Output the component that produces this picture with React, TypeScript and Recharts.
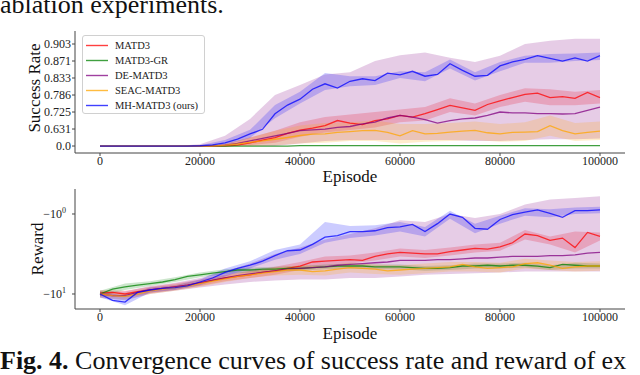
import React from "react";
import { ComposedChart, Line, Area, XAxis, YAxis } from "recharts";

const SERIF = '"Liberation Serif", "Times New Roman", serif';
const AXIS = "#444";

// x grid of the curves (every 2500 episodes) and of the shaded bands (every 5000)
const EPISODES = [
  0, 2500, 5000, 7500, 10000, 12500, 15000, 17500, 20000, 22500, 25000, 27500, 30000, 32500,
  35000, 37500, 40000, 42500, 45000, 47500, 50000, 52500, 55000, 57500, 60000, 62500, 65000,
  67500, 70000, 72500, 75000, 77500, 80000, 82500, 85000, 87500, 90000, 92500, 95000, 97500,
  100000,
];
const BAND_EPISODES = [
  0, 5000, 10000, 15000, 20000, 25000, 30000, 35000, 40000, 45000, 50000, 55000, 60000, 65000,
  70000, 75000, 80000, 85000, 90000, 95000, 100000,
];
const X_TICKS = [0, 20000, 40000, 60000, 80000, 100000];

// success-rate axis uses uneven tick values, equally spaced
const SR_TICKS = [0, 0.631, 0.725, 0.786, 0.833, 0.871, 0.903];
const SR_TICK_LABELS = ["0.0", "0.631", "0.725", "0.786", "0.833", "0.871", "0.903"];

// ---- success rate ----
const SR_MATD3 = [
  0, 0, 0, 0, 0, 0, 0, 0, 0, 0, 0, 0.032, 0.114, 0.221, 0.316, 0.473, 0.593, 0.636, 0.65, 0.678,
  0.664, 0.655, 0.678, 0.687, 0.706, 0.697, 0.716, 0.734, 0.749, 0.74, 0.731, 0.752, 0.765, 0.777,
  0.788, 0.791, 0.777, 0.78, 0.774, 0.793, 0.777,
];
const SR_MATD3_GR = [
  0, 0, 0, 0, 0, 0, 0, 0, 0, 0, 0, 0, 0, 0, 0, 0, 0.015, 0.015, 0.015, 0.015, 0.015, 0.015, 0.015,
  0.015, 0.015, 0.015, 0.015, 0.015, 0.015, 0.015, 0.015, 0.015, 0.015, 0.015, 0.015, 0.015, 0.015,
  0.015, 0.015, 0.015, 0.015,
];
const SR_DE_MATD3 = [
  0, 0, 0, 0, 0, 0, 0, 0, 0, 0, 0.032, 0.095, 0.189, 0.284, 0.379, 0.473, 0.568, 0.599, 0.631,
  0.64, 0.645, 0.659, 0.669, 0.692, 0.706, 0.697, 0.683, 0.664, 0.678, 0.687, 0.692, 0.706, 0.725,
  0.72, 0.72, 0.716, 0.716, 0.714, 0.716, 0.731, 0.743,
];
const SR_SEAC_MATD3 = [
  0, 0, 0, 0, 0, 0, 0, 0, 0, 0, 0.032, 0.076, 0.139, 0.189, 0.252, 0.316, 0.391, 0.442, 0.454,
  0.505, 0.536, 0.568, 0.581, 0.505, 0.379, 0.568, 0.454, 0.473, 0.517, 0.555, 0.581, 0.492, 0.454,
  0.505, 0.517, 0.536, 0.65, 0.568, 0.454, 0.505, 0.555,
];
const SR_MH_MATD3 = [
  0, 0, 0, 0, 0, 0, 0, 0, 0.01, 0.04, 0.12, 0.26, 0.45, 0.62, 0.715, 0.75, 0.771, 0.802,
  0.817, 0.805, 0.824, 0.831, 0.826, 0.844, 0.84, 0.848, 0.837, 0.841, 0.865, 0.85, 0.837, 0.839,
  0.86, 0.869, 0.874, 0.881, 0.876, 0.871, 0.877, 0.871, 0.881,
];

const SR_MATD3_LO = [0, 0, 0, 0, 0, 0, 0.032, 0.126, 0.347, 0.505, 0.599, 0.64, 0.669, 0.678, 0.725, 0.706, 0.743, 0.762, 0.749, 0.749, 0.756];
const SR_MATD3_HI = [0, 0, 0, 0, 0, 0.063, 0.316, 0.568, 0.669, 0.697, 0.711, 0.725, 0.734, 0.743, 0.774, 0.756, 0.786, 0.805, 0.802, 0.795, 0.8];
const SR_DE_LO = [0, 0, 0, 0, 0, 0, 0, 0, 0.095, 0.189, 0.221, 0.221, 0.221, 0.221, 0.221, 0.189, 0.189, 0.221, 0.252, 0.252, 0.284];
const SR_DE_HI = [0, 0, 0, 0, 0.063, 0.379, 0.687, 0.786, 0.814, 0.841, 0.846, 0.871, 0.882, 0.887, 0.877, 0.869, 0.881, 0.903, 0.909, 0.913, 0.913];
const SR_SEAC_LO = [0, 0, 0, 0, 0, 0, 0, 0.032, 0.095, 0.126, 0.189, 0.189, 0.095, 0.158, 0.189, 0.221, 0.158, 0.189, 0.379, 0.189, 0.221];
const SR_SEAC_HI = [0, 0, 0, 0, 0, 0.095, 0.316, 0.568, 0.65, 0.664, 0.669, 0.678, 0.659, 0.659, 0.664, 0.673, 0.659, 0.669, 0.706, 0.664, 0.673];
const SR_MH_LO = [0, 0, 0, 0, 0, 0.05, 0.3, 0.69, 0.756, 0.8, 0.81, 0.814, 0.833, 0.824, 0.854, 0.826, 0.848, 0.867, 0.867, 0.871, 0.873];
const SR_MH_HI = [0, 0, 0, 0, 0.03, 0.22, 0.6, 0.75, 0.795, 0.844, 0.837, 0.837, 0.848, 0.846, 0.874, 0.846, 0.869, 0.881, 0.884, 0.885, 0.887];

// ---- reward ----
const RW_MATD3 = [
  -9.77, -9.55, -10.0, -9.33, -8.91, -8.51, -8.13, -7.76, -7.24, -6.76, -6.31, -6.03, -5.75, -5.37,
  -5.13, -4.79, -4.47, -3.98, -3.89, -3.8, -3.72, -3.8, -3.39, -3.16, -3.02, -3.09, -3.16, -3.16,
  -2.95, -2.82, -2.69, -2.75, -2.57, -2.29, -1.78, -1.86, -2.14, -2.0, -2.63, -1.7, -1.91,
];
const RW_MATD3_GR = [
  -10.0, -8.71, -8.13, -7.76, -7.41, -7.08, -6.61, -6.03, -5.75, -5.5, -5.25, -5.01, -5.01, -4.9,
  -4.9, -4.79, -4.79, -4.68, -4.57, -4.47, -4.47, -4.47, -4.57, -4.57, -4.57, -4.68, -4.79, -4.79,
  -4.68, -4.47, -4.47, -4.37, -4.47, -4.37, -4.37, -4.47, -4.68, -4.27, -4.37, -4.47, -4.47,
];
const RW_DE_MATD3 = [
  -10.0, -10.5, -10.5, -9.55, -8.91, -8.51, -8.13, -7.76, -7.24, -6.76, -6.31, -5.89, -5.62, -5.37,
  -5.13, -4.9, -4.79, -4.68, -4.57, -4.37, -4.27, -4.17, -4.07, -3.98, -3.8, -3.8, -3.8, -3.72,
  -3.72, -3.63, -3.55, -3.55, -3.47, -3.39, -3.39, -3.39, -3.31, -3.31, -3.24, -3.09, -3.02,
];
const RW_SEAC_MATD3 = [
  -10.0, -10.5, -10.7, -10.0, -9.12, -8.71, -8.32, -7.94, -7.41, -6.92, -6.46, -6.03, -5.75, -5.5,
  -5.25, -5.01, -5.01, -5.25, -5.13, -4.9, -4.68, -4.79, -4.9, -5.13, -5.01, -4.9, -4.79, -4.68,
  -4.57, -4.27, -4.57, -4.79, -4.68, -4.57, -4.17, -4.07, -4.37, -4.79, -4.57, -4.47, -4.47,
];
const RW_MH_MATD3 = [
  -10.0, -12.0, -12.6, -9.55, -8.91, -8.51, -8.32, -7.94, -7.08, -6.31, -5.37, -4.79, -4.37, -3.89,
  -3.31, -2.88, -2.82, -2.4, -1.95, -1.86, -1.66, -1.66, -1.62, -1.48, -1.45, -1.35, -1.66, -1.32,
  -1.0, -1.1, -1.51, -1.55, -1.17, -1.02, -0.95, -0.89, -0.98, -1.1, -0.91, -0.91, -0.89,
];

const RW_MATD3_LO = [-10.7, -10.96, -9.77, -8.91, -7.94, -6.92, -6.31, -5.75, -5.01, -4.47, -4.17, -3.8, -3.39, -3.55, -3.31, -3.02, -2.88, -2.09, -2.4, -3.02, -2.14];
const RW_MATD3_HI = [-8.91, -9.12, -8.13, -7.41, -6.61, -5.75, -5.13, -4.57, -3.98, -3.39, -3.31, -3.02, -2.69, -2.82, -2.63, -2.4, -2.29, -1.58, -1.91, -1.66, -1.7];
const RW_GR_LO = [-10.7, -8.91, -7.94, -7.08, -6.17, -5.62, -5.37, -5.25, -5.13, -4.9, -4.79, -4.9, -4.9, -5.13, -5.01, -4.79, -4.79, -4.68, -5.01, -4.79, -4.79];
const RW_GR_HI = [-9.12, -7.41, -6.92, -6.17, -5.37, -4.9, -4.68, -4.57, -4.47, -4.27, -4.17, -4.27, -4.27, -4.47, -4.37, -4.17, -4.17, -4.07, -4.37, -4.07, -4.17];
const RW_DE_LO = [-11.2, -12.0, -10.0, -9.12, -8.32, -7.59, -7.08, -6.76, -6.61, -6.61, -6.31, -6.31, -6.03, -5.75, -5.62, -5.5, -5.37, -5.25, -5.25, -5.25, -5.25];
const RW_DE_HI = [-9.33, -9.33, -7.94, -7.24, -6.31, -5.25, -4.17, -3.16, -2.63, -2.09, -1.78, -1.51, -1.2, -1.26, -1.0, -1.12, -1.0, -0.76, -0.66, -0.63, -0.6];
const RW_SEAC_LO = [-10.96, -11.7, -10.0, -9.12, -8.13, -7.08, -6.31, -5.89, -5.75, -5.89, -5.37, -5.62, -5.75, -5.5, -5.25, -5.25, -5.37, -4.79, -5.01, -5.25, -5.13];
const RW_SEAC_HI = [-9.12, -9.77, -8.32, -7.59, -6.76, -5.89, -5.25, -4.68, -4.37, -4.47, -4.07, -4.27, -4.37, -4.17, -3.98, -3.98, -4.07, -3.63, -3.8, -3.98, -3.89];
const RW_MH_LO = [-10.96, -13.8, -9.55, -8.91, -7.76, -6.03, -4.79, -3.72, -3.16, -2.29, -2.0, -1.86, -1.66, -1.91, -1.15, -1.74, -1.32, -1.05, -1.1, -1.0, -0.98];
const RW_MH_HI = [-9.33, -10.5, -8.32, -7.76, -6.61, -4.79, -3.89, -2.82, -2.4, -1.26, -1.41, -1.38, -1.26, -1.45, -0.91, -1.32, -1.05, -0.85, -0.87, -0.83, -0.81];

const SERIES = [
  { name: "MATD3", color: "#ff0000", sr: SR_MATD3, srLo: SR_MATD3_LO, srHi: SR_MATD3_HI, rw: RW_MATD3, rwLo: RW_MATD3_LO, rwHi: RW_MATD3_HI },
  { name: "MATD3-GR", color: "#008000", sr: SR_MATD3_GR, srLo: null, srHi: null, rw: RW_MATD3_GR, rwLo: RW_GR_LO, rwHi: RW_GR_HI },
  { name: "DE-MATD3", color: "#800080", sr: SR_DE_MATD3, srLo: SR_DE_LO, srHi: SR_DE_HI, rw: RW_DE_MATD3, rwLo: RW_DE_LO, rwHi: RW_DE_HI },
  { name: "SEAC-MATD3", color: "#ffa500", sr: SR_SEAC_MATD3, srLo: SR_SEAC_LO, srHi: SR_SEAC_HI, rw: RW_SEAC_MATD3, rwLo: RW_SEAC_LO, rwHi: RW_SEAC_HI },
  { name: "MH-MATD3 (ours)", color: "#0000ff", sr: SR_MH_MATD3, srLo: SR_MH_LO, srHi: SR_MH_HI, rw: RW_MH_MATD3, rwLo: RW_MH_LO, rwHi: RW_MH_HI },
];

// piecewise mapping of a success rate onto the evenly spaced tick positions
function toPos(r: number) {
  for (let i = 1; i < SR_TICKS.length; i++) {
    if (r <= SR_TICKS[i]) return i - 1 + (r - SR_TICKS[i - 1]) / (SR_TICKS[i] - SR_TICKS[i - 1]);
  }
  const n = SR_TICKS.length - 1;
  return n + (r - SR_TICKS[n]) / (SR_TICKS[n] - SR_TICKS[n - 1]);
}

const lineData = (vals: number[]) => EPISODES.map((x, i) => ({ x, v: vals[i] }));
const bandData = (lo: number[], hi: number[]) => BAND_EPISODES.map((x, i) => ({ x, lo: lo[i], hi: hi[i] }));

const tickStyle = { fontSize: 12, fontFamily: SERIF, fill: "#222" };

const RewardTick = (props: any) => {
  const { x, y, payload } = props;
  const exp = Math.round(Math.log10(payload.value));
  return (
    <text x={x - 4} y={y} dy="0.35em" textAnchor="end" {...tickStyle}>
      −10
      <tspan dy={-5} fontSize={8}>{exp}</tspan>
    </text>
  );
};

function frameAxes() {
  return [
    <XAxis key="xt" xAxisId="top" orientation="top" type="number" domain={[0, 1]} height={0} tick={false} tickLine={false} stroke={AXIS} />,
    <YAxis key="yr" yAxisId="right" orientation="right" type="number" domain={[0, 1]} width={0} tick={false} tickLine={false} stroke={AXIS} />,
  ];
}

function bottomAxis() {
  return (
    <XAxis
      dataKey="x"
      type="number"
      domain={[-5000, 105000]}
      ticks={X_TICKS}
      allowDataOverflow
      height={30}
      tickSize={3}
      tickMargin={0}
      tick={tickStyle}
      stroke={AXIS}
      interval={0}
    />
  );
}

function SuccessChart() {
  return (
    <ComposedChart width={640} height={190} margin={{ top: 31, right: 15, bottom: 7, left: 15 }}>
      {bottomAxis()}
      <YAxis
        type="number"
        domain={[-0.41, 6.765]}
        allowDataOverflow
        ticks={SR_TICKS.map(toPos)}
        tickFormatter={(v: number) => SR_TICK_LABELS[Math.round(v)]}
        width={60}
        tickSize={3}
        tickMargin={1}
        tick={tickStyle}
        stroke={AXIS}
        interval={0}
      />
      {frameAxes()}
      {SERIES.filter((s) => s.srLo).map((s) => (
        <Area
          key={s.name + "-band"}
          data={bandData(s.srLo as number[], s.srHi as number[])}
          dataKey={(d: any) => [toPos(d.lo), toPos(d.hi)]}
          stroke="none"
          fill={s.color}
          fillOpacity={0.2}
          isAnimationActive={false}
        />
      ))}
      {SERIES.map((s) => (
        <Line
          key={s.name}
          data={lineData(s.sr)}
          dataKey={(d: any) => toPos(d.v)}
          stroke={s.color}
          strokeOpacity={0.75}
          strokeWidth={1.3}
          dot={false}
          isAnimationActive={false}
        />
      ))}
    </ComposedChart>
  );
}

function RewardChart() {
  return (
    <ComposedChart width={640} height={165} margin={{ top: 9, right: 15, bottom: 6, left: 15 }}>
      {bottomAxis()}
      <YAxis
        type="number"
        scale="log"
        domain={[0.487, 15.4]}
        allowDataOverflow
        reversed
        ticks={[1, 10]}
        tick={<RewardTick />}
        width={60}
        tickSize={3}
        stroke={AXIS}
        interval={0}
      />
      {frameAxes()}
      {SERIES.map((s) => (
        <Area
          key={s.name + "-band"}
          data={bandData(s.rwLo, s.rwHi)}
          dataKey={(d: any) => [-d.hi, -d.lo]}
          stroke="none"
          fill={s.color}
          fillOpacity={0.2}
          isAnimationActive={false}
        />
      ))}
      {SERIES.map((s) => (
        <Line
          key={s.name}
          data={lineData(s.rw)}
          dataKey={(d: any) => -d.v}
          stroke={s.color}
          strokeOpacity={0.75}
          strokeWidth={1.3}
          dot={false}
          isAnimationActive={false}
        />
      ))}
    </ComposedChart>
  );
}

function LegendBox() {
  return (
    <div
      style={{
        position: "absolute",
        left: 82,
        top: 35,
        width: 121,
        height: 77,
        border: "1px solid #d0d0d0",
        borderRadius: 3,
        background: "rgba(255,255,255,0.85)",
        fontFamily: SERIF,
        fontSize: 10.5,
        color: "#222",
      }}
    >
      {SERIES.map((s, i) => (
        <div key={s.name} style={{ position: "absolute", left: 0, top: 2 + i * 15, height: 15, display: "flex", alignItems: "center", whiteSpace: "nowrap" }}>
          <svg width={32} height={15}>
            <line x1={3} x2={25} y1={7.5} y2={7.5} stroke={s.color} strokeOpacity={0.75} strokeWidth={1.4} />
          </svg>
          <span>{s.name}</span>
        </div>
      ))}
    </div>
  );
}

export default function App() {
  return (
    <div style={{ position: "relative", width: 640, height: 375, background: "#fff", overflow: "hidden" }}>
      <style>{"body{margin:0}"}</style>
      <div style={{ position: "absolute", left: 0, top: 0 }}>
        <SuccessChart />
      </div>
      <div style={{ position: "absolute", left: 0, top: 180 }}>
        <RewardChart />
      </div>
      <LegendBox />
      <svg width={640} height={375} style={{ position: "absolute", left: 0, top: 0, pointerEvents: "none" }} fontFamily={SERIF} fill="#111">
        <text x={0} y={13} fontSize={26}>ablation experiments.</text>
        <text x={0} y={369} fontSize={26}>
          <tspan fontWeight="bold">Fig. 4.</tspan> Convergence curves of success rate and reward of ex
        </text>
        <text x={350} y={182} fontSize={17} textAnchor="middle">Episode</text>
        <text x={350} y={339} fontSize={17} textAnchor="middle">Episode</text>
        <text transform="translate(40,88) rotate(-90)" fontSize={17} textAnchor="middle">Success Rate</text>
        <text transform="translate(43,249) rotate(-90)" fontSize={17} textAnchor="middle">Reward</text>
      </svg>
    </div>
  );
}
